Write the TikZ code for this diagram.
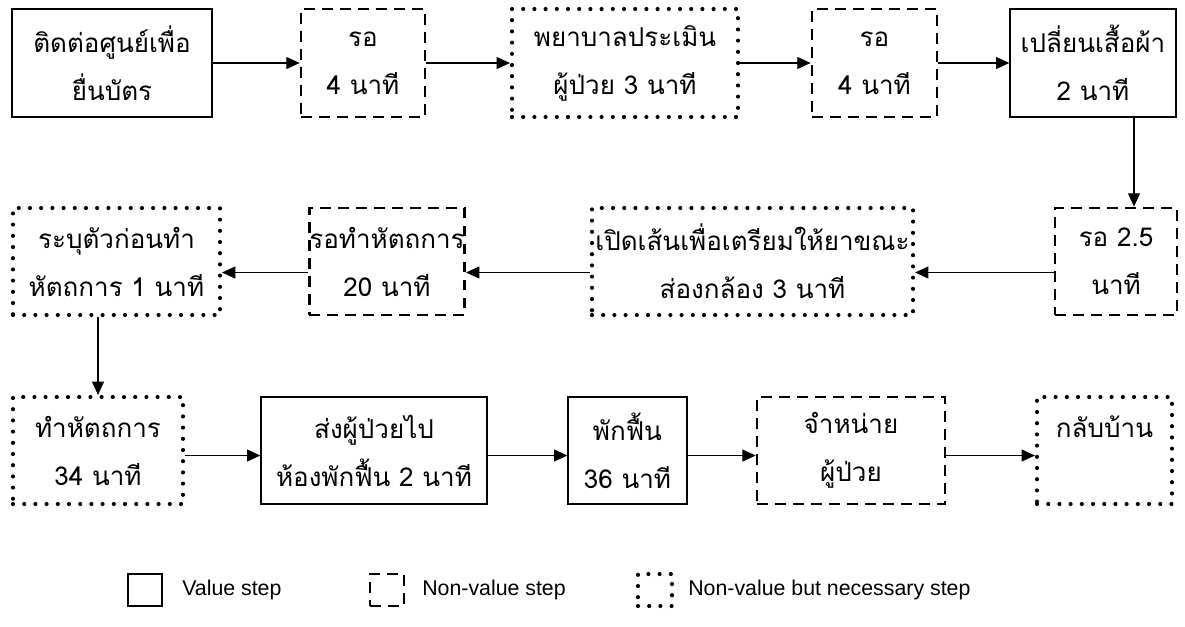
\documentclass[tikz,border=0pt]{standalone}
\usepackage{fontspec}
\setmainfont{Liberation Sans}
\newfontfamily\thaifont[Script=Thai]{Loma}
\usetikzlibrary{arrows.meta,calc}
\newcommand\mybox[7]{\node[#1, minimum width={(#4-#3)*0.75pt}, minimum height={(#6-#5)*0.75pt}] (#2) at ({(#3+#4)/2},{(#5+#6)/2}) {#7};}
\begin{document}
\begin{tikzpicture}[x=0.75pt,y=-0.75pt,
 box/.style={draw, rectangle, inner sep=0pt, align=center, font=\thaifont\fontsize{19.5}{36}\selectfont},
 vbox/.style={box, line width=1pt},
 nbox/.style={box, line width=2pt, dash pattern=on 8pt off 5.5pt},
 dbox/.style={box, line width=3.1pt, line cap=round, dash pattern=on 0pt off 8.4pt},
 arr/.style={-{Triangle[length=10pt,width=9pt]}, line width=0.8pt},
 lg/.style={font=\fontsize{16}{19}\selectfont, anchor=west, inner sep=0pt}
]
\useasboundingbox (0,0) rectangle (1185,626);
% row 1
\mybox{vbox}{b1}{12}{212}{9}{117}{ติดต่อศูนย์เพื่อ\\ยื่นบัตร}
\mybox{nbox}{b2}{301}{425}{9}{117}{รอ\\4 นาที}
\mybox{dbox}{b3}{512}{738}{9}{117}{พยาบาลประเมิน\\ผู้ป่วย 3 นาที}
\mybox{nbox}{b4}{812}{937}{9}{117}{รอ\\4 นาที}
\mybox{vbox}{b5}{1010}{1176}{9}{117}{เปลี่ยนเสื้อผ้า\\2 นาที}
% row 2
\mybox{nbox}{b6}{1055}{1177}{208}{315}{รอ 2.5\\นาที}
\mybox{dbox}{b7}{592}{913}{208}{315}{เปิดเส้นเพื่อเตรียมให้ยาขณะ\\ส่องกล้อง 3 นาที}
\mybox{nbox}{b8}{312}{462}{208}{315}{รอทำหัตถการ\\20 นาที}
\mybox{dbox}{b9}{13}{220}{208}{315}{ระบุตัวก่อนทำ\\หัตถการ 1 นาที}
% row 3
\mybox{dbox}{b10}{13}{183}{397}{504}{ทำหัตถการ\\34 นาที}
\mybox{vbox}{b11}{261}{487}{397}{504}{ส่งผู้ป่วยไป\\ห้องพักฟื้น 2 นาที}
\mybox{vbox}{b12}{568}{687}{397}{504}{พักฟื้น\\36 นาที}
\mybox{nbox}{b13}{757}{945}{397}{504}{จำหน่าย\\ผู้ป่วย}
\mybox{dbox}{b14}{1037}{1172}{397}{504}{กลับบ้าน\\~}
% arrows row 1
\draw[arr] (b1.east) -- (b2.west);
\draw[arr] (b2.east) -- (b3.west);
\draw[arr] (b3.east) -- (b4.west);
\draw[arr] (b4.east) -- (b5.west);
\coordinate (v1) at ($(b5.south)+(41,0)$);
\draw[arr] (v1) -- (v1 |- b6.north);
% arrows row 2
\draw[arr] ($(b6.west)+(0,11)$) -- ($(b7.east)+(0,11)$);
\draw[arr] ($(b7.west)+(0,11)$) -- ($(b8.east)+(0,11)$);
\draw[arr] ($(b8.west)+(0,11)$) -- ($(b9.east)+(0,11)$);
\draw[arr] (b10.north |- b9.south) -- (b10.north);
% arrows row 3
\draw[arr] ($(b10.east)+(0,5)$) -- ($(b11.west)+(0,5)$);
\draw[arr] ($(b11.east)+(0,5)$) -- ($(b12.west)+(0,5)$);
\draw[arr] ($(b12.east)+(0,5)$) -- ($(b13.west)+(0,5)$);
\draw[arr] ($(b13.east)+(0,5)$) -- ($(b14.west)+(0,5)$);
% legend
\mybox{vbox}{l1}{128}{162}{574}{606}{}
\node[lg] (t1) at (182,590) {Value step};
\mybox{nbox}{l2}{370}{404}{574}{606}{}
\node[lg] (t2) at (422,590) {Non-value step};
\mybox{dbox}{l3}{638}{672}{574}{606}{}
\node[lg] (t3) at (688,590) {Non-value but necessary step};
\end{tikzpicture}
\end{document}
